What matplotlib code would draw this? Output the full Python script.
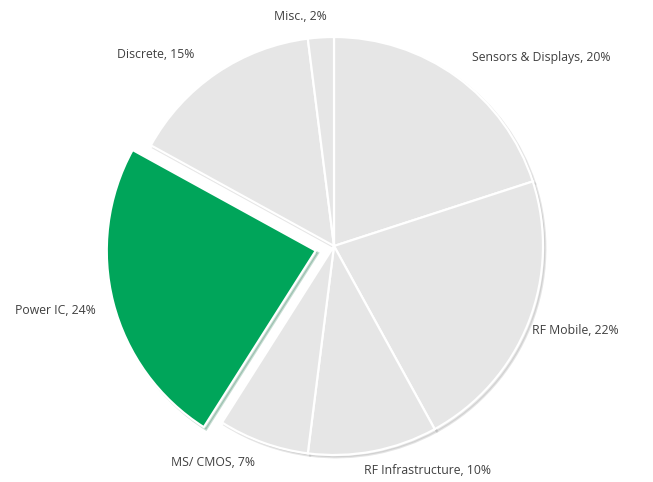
import matplotlib
matplotlib.use("Agg")
import matplotlib.pyplot as plt

categories = ["Sensors & Displays", "RF Mobile", "RF Infrastructure", "MS/ CMOS",
              "Power IC", "Discrete", "Misc."]
shares = [20, 22, 10, 7, 24, 15, 2]
highlight = "Power IC"

# label centre positions in pixels (style/layout, not data)
label_px = [(541, 58), (575, 330), (427, 470), (213, 463), (55, 310), (156, 55), (300, 17)]

W, H = 653, 482
CX, CY, R = 334, 246, 209

fig = plt.figure(figsize=(W / 100, H / 100), dpi=100)
ax = fig.add_axes([0, 0, 1, 1])
ax.axis("off")

grey = "#e6e6e6"
green = "#00a55a"
colors = [green if c == highlight else grey for c in categories]
explode = [0.09 if c == highlight else 0 for c in categories]

wedges, _ = ax.pie(shares, colors=colors, explode=explode, startangle=90,
                   counterclock=False, radius=1, center=(0, 0),
                   wedgeprops=dict(edgecolor="white", linewidth=1.6),
                   shadow=dict(ox=0.008, oy=-0.008, shade=0.4, alpha=0.22),
                   frame=False)
ax.set_xlim(-CX / R, (W - CX) / R)
ax.set_ylim(-(H - CY) / R, CY / R)
ax.set_aspect("equal")

for cat, val, (px, py) in zip(categories, shares, label_px):
    ax.text((px - CX) / R, (CY - py) / R, f"{cat}, {val}%", ha="center", va="center",
            fontsize=8.8, color="#404040", family=["Open Sans", "DejaVu Sans"])

fig.savefig("out.png", dpi=100)
